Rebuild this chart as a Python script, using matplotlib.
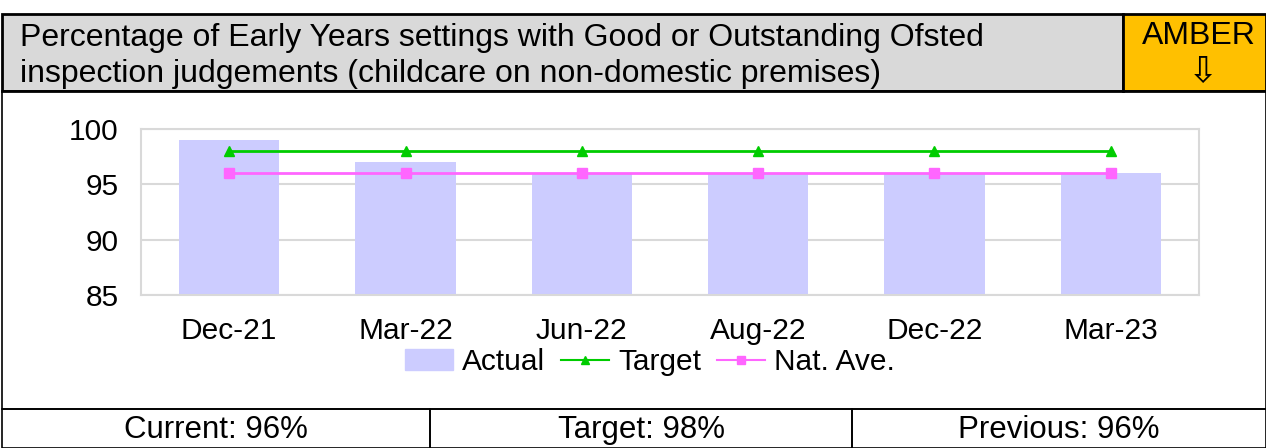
import numpy as np
import matplotlib
matplotlib.use("Agg")
import matplotlib.pyplot as plt
from matplotlib.patches import Rectangle
from matplotlib.lines import Line2D

plt.rcParams['font.family'] = ['Liberation Sans', 'DejaVu Sans']

periods = ["Dec-21", "Mar-22", "Jun-22", "Aug-22", "Dec-22", "Mar-23"]
actual = [99, 97, 96, 96, 96, 96]
target = [98, 98, 98, 98, 98, 98]
nat_ave = [96, 96, 96, 96, 96, 96]
yticks = [85, 90, 95, 100]

title = ("Percentage of Early Years settings with Good or Outstanding Ofsted\n"
         "inspection judgements (childcare on non-domestic premises)")
status = "AMBER"
footer = ["Current: 96%", "Target: 98%", "Previous: 96%"]

W, H = 1266, 448


def fx(px):
    return px / W


def fy(py):
    return 1 - py / H


fig = plt.figure(figsize=(W / 100, H / 100), dpi=100)


# header and frame boxes (pixel coords, top origin)
def box(x0, y0, x1, y1, face="none", lw=2.0):
    fig.patches.append(Rectangle((fx(x0), fy(y1)), fx(x1 - x0), fy(y0) - fy(y1),
                                 transform=fig.transFigure, facecolor=face,
                                 edgecolor="black", linewidth=lw))


box(2, 14, 1123, 91, face="#D9D9D9")
box(1123, 14, 1266, 91, face="#FFC000")
box(2, 91, 1266, 409, lw=1.2)
box(2, 409, 430, 448, lw=1.2)
box(430, 409, 852, 448, lw=1.2)
box(852, 409, 1266, 448, lw=1.2)

fig.text(fx(20), fy(56), title, ha="left", va="center", fontsize=23,
         linespacing=1.3)
fig.text(fx(1199), fy(36), status, ha="center", va="center", fontsize=23)
fig.text(fx(1203), fy(72), "\u21e9", ha="center", va="center", fontsize=26,
         family=["DejaVu Sans"])

centers = [216, 641, 1059]
for cx, t in zip(centers, footer):
    fig.text(fx(cx), fy(430), t, ha="center", va="center", fontsize=22.5)

# chart
ax = fig.add_axes([fx(141), fy(295), fx(1199 - 141), fy(129) - fy(295)])
x = np.arange(len(periods))
ax.bar(x, actual, width=0.57, color="#CCCCFF", label="Actual", zorder=2)
ax.plot(x, target, color="#00CC00", marker="^", markersize=7, linewidth=2,
        label="Target", zorder=3)
ax.plot(x, nat_ave, color="#FF66FF", marker="s", markersize=7, linewidth=2,
        label="Nat. Ave.", zorder=3)

ax.set_xlim(-0.5, len(periods) - 0.5)
ax.set_ylim(85, 100)
ax.set_yticks(yticks)
ax.set_xticks(x)
ax.set_xticklabels(periods)
ax.tick_params(axis="both", length=0, labelsize=21.5)
ax.tick_params(axis="x", pad=16)
ax.tick_params(axis="y", pad=16)
ax.grid(axis="y", color="#D9D9D9", linewidth=1.5, zorder=0)
ax.set_axisbelow(True)
for s in ax.spines.values():
    s.set_color("#D9D9D9")
    s.set_linewidth(1.5)

handles = [Rectangle((0, 0), 1, 1, color="#CCCCFF"),
           Line2D([], [], color="#00CC00", marker="^", markersize=6, linewidth=1.5),
           Line2D([], [], color="#FF66FF", marker="s", markersize=6, linewidth=1.5)]
fig.legend(handles, ["Actual", "Target", "Nat. Ave."], loc="center",
           bbox_to_anchor=(fx(650), fy(362)), ncol=3, frameon=False,
           fontsize=21.5, handlelength=1.6, handletextpad=0.3, columnspacing=0.55,
           borderaxespad=0, borderpad=0)

fig.savefig("out.png", dpi=100)
